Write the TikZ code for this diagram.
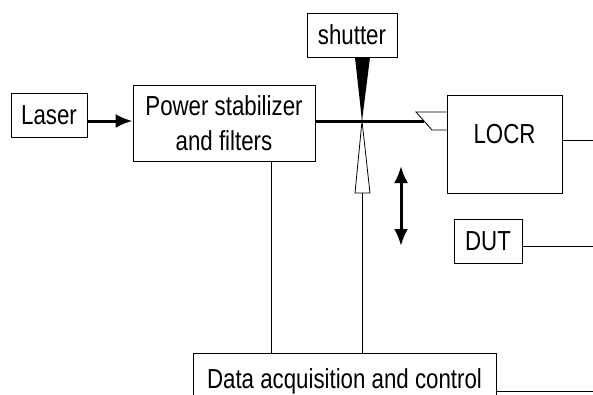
\documentclass[tikz,border=0pt]{standalone}
\usepackage{fontspec}
\setmainfont{Liberation Sans}[FakeStretch=0.81]
\usetikzlibrary{arrows.meta}
\usetikzlibrary{positioning}

\begin{document}
\begin{tikzpicture}[x=1pt,y=-1pt,line width=0.8pt,>={Latex[length=17pt,width=14pt]},
                    box/.style={draw,rectangle,inner sep=0pt,font=\fontsize{27.5}{35}\selectfont},
                    beam/.style={line width=3pt}]
  \useasboundingbox (0,0) rectangle (593,394);

  \node[box,minimum width=76,minimum height=44] (laser) at (49,115) {Laser};
  \node[box,minimum width=182,minimum height=76,align=center] (power) at (224,123)
    {Power stabilizer\\and filters};
  \node[box,minimum width=90,minimum height=44] (shutter) at (352,35) {shutter};

  \node[box,minimum width=115,minimum height=98] (locr) at (504.5,144) {};
  \node[font=\fontsize{27.5}{35}\selectfont,inner sep=0pt] (locrtext) at ([yshift=9.5]locr.center) {LOCR};
  \node[box,minimum width=68,minimum height=44] (dut) at (488,241) {DUT};
  \node[box,minimum width=303,minimum height=56] (daq) at (344.5,381)
    {Data acquisition and control};

  % beam path
  \coordinate (tip) at (362,121);
  \coordinate (base) at (362,193);
  \coordinate (cpl) at (424,121);
  \coordinate (ct) at (416,112);
  \coordinate (cb) at (432,130);

  \draw[beam,->] (laser.east |- tip) -- (power.west |- tip);
  \draw[beam] (power.east |- tip) -- (cpl);

  % shutter blade and mirror
  \fill ([xshift=-7]tip |- shutter.south) -- ([xshift=8]tip |- shutter.south) -- (tip) -- cycle;
  \draw (tip) -- ([xshift=-7]base) -- ([xshift=8]base) -- cycle;

  % fibre coupler
  \draw (locr.west |- ct) -- (ct) -- (cb) -- (locr.west |- cb);

  % movement
  \coordinate (mvup) at (401,166);
  \coordinate (mvdn) at (401,246);
  \draw[beam,<->] (mvup) -- (mvdn);

  % signal lines
  \coordinate (r1) at (593,140);
  \coordinate (r2) at (593,246);
  \coordinate (r3) at (593,391);
  \draw (base) -- (base |- daq.north);
  \draw ([xshift=47]power.south) -- ([xshift=47]power.south |- daq.north);
  \draw (locr.east |- r1) -- (r1);
  \draw (dut.east |- r2) -- (r2);
  \draw (daq.east |- r3) -- (r3);
\end{tikzpicture}
\end{document}
